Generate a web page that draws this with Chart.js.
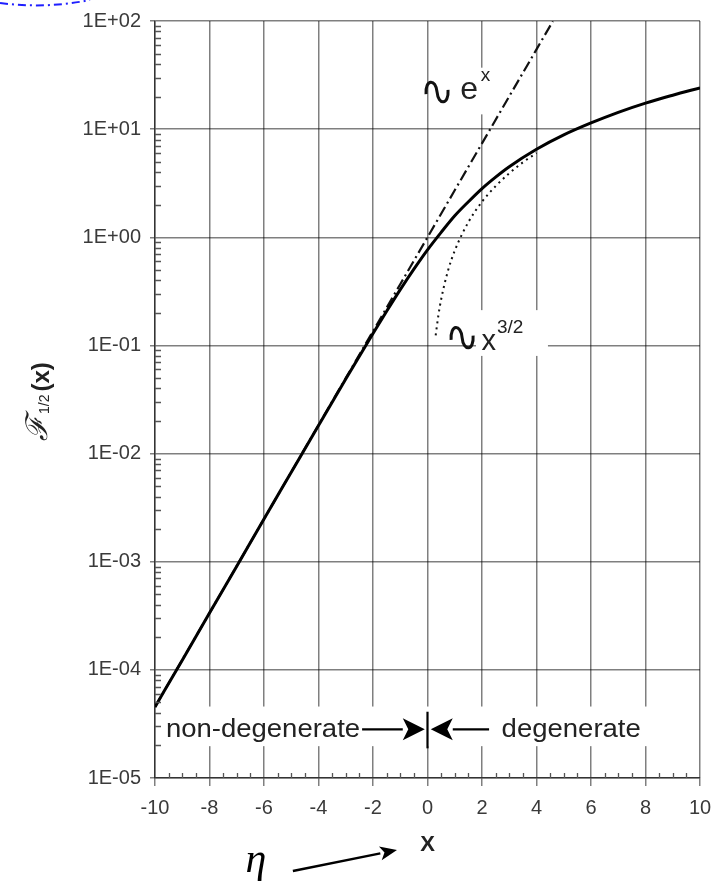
<!DOCTYPE html>
<html>
<head>
<meta charset="utf-8">
<script src="https://cdn.jsdelivr.net/npm/chart.js@4.4.1/dist/chart.umd.min.js"></script>
<style>
  html, body { margin: 0; padding: 0; background: #fff; }
  canvas { display: block; }
</style>
</head>
<body>
<canvas id="graficoFermi" width="723" height="887"></canvas>
<script>
// valores
const etaPuntos = [-10, -9, -8, -7, -6, -5, -4, -3, -2, -1.5, -1, -0.5, 0, 0.5, 1, 1.5, 2, 2.5, 3, 4, 5, 6, 7, 8, 9, 10];
const fermiMedio = [4.54e-5, 1.23e-4, 3.35e-4, 9.1e-4, 2.48e-3, 6.72e-3, 1.82e-2, 4.89e-2, 0.129, 0.207, 0.328, 0.507, 0.765, 1.11, 1.58, 2.13, 2.82, 3.60, 4.49, 6.51, 8.84, 11.4, 14.3, 17.4, 20.6, 24.1];

// asintota no degenerada ~ e^x
const expX = [-10, -6, -3, -1, 0, 1, 2, 3, 4, 4.6];
const expY = [4.54e-5, 2.48e-3, 4.98e-2, 0.368, 1, 2.72, 7.39, 20.1, 54.6, 99.5];

// asintota degenerada ~ x^(3/2)
const potX = [0.3, 0.4, 0.5, 0.75, 1, 1.5, 2, 2.5, 3, 3.5, 4];
const potY = [0.124, 0.19, 0.266, 0.489, 0.752, 1.38, 2.13, 2.97, 3.91, 4.93, 6.02];

const xTickValores = [-10, -8, -6, -4, -2, 0, 2, 4, 6, 8, 10];
const yTickValores = [1e-5, 1e-4, 1e-3, 1e-2, 1e-1, 1, 10, 100];
const yTickTextos = ['1E-05', '1E-04', '1E-03', '1E-02', '1E-01', '1E+00', '1E+01', '1E+02'];

function pares(xs, ys) {
  return xs.map((x, i) => ({ x: x, y: ys[i] }));
}

const fuente = "'Liberation Sans', Arial, sans-serif";

// tilde grande dibujada a mano
function tilde(ctx, x0, y0, w, h) {
  ctx.save();
  ctx.lineWidth = 3;
  ctx.strokeStyle = '#111';
  ctx.beginPath();
  ctx.moveTo(x0 + 1, y0 + 0.6 * h);
  ctx.bezierCurveTo(x0, y0 - 0.15 * h, x0 + 0.45 * w, y0 - 0.15 * h, x0 + 0.5 * w, y0 + 0.5 * h);
  ctx.bezierCurveTo(x0 + 0.55 * w, y0 + 1.15 * h, x0 + w, y0 + 1.15 * h, x0 + w - 1, y0 + 0.4 * h);
  ctx.stroke();
  ctx.restore();
}

function flecha(ctx, x1, y1, x2, y2, largo, ancho) {
  const ang = Math.atan2(y2 - y1, x2 - x1);
  const bx = x2 - largo * Math.cos(ang), by = y2 - largo * Math.sin(ang);
  ctx.beginPath();
  ctx.moveTo(x1, y1);
  ctx.lineTo(bx, by);
  ctx.stroke();
  ctx.beginPath();
  ctx.moveTo(x2, y2);
  ctx.lineTo(bx - ancho / 2 * Math.sin(ang), by + ancho / 2 * Math.cos(ang));
  ctx.lineTo(bx + 0.25 * largo * Math.cos(ang), by + 0.25 * largo * Math.sin(ang));
  ctx.lineTo(bx + ancho / 2 * Math.sin(ang), by - ancho / 2 * Math.cos(ang));
  ctx.closePath();
  ctx.fill();
}

const anotaciones = {
  id: 'anotaciones',
  beforeDatasetsDraw(chart) {
    // fondos blancos detras de los textos (tapan la grilla)
    const ctx = chart.ctx, X = v => chart.scales.x.getPixelForValue(v), Y = v => chart.scales.y.getPixelForValue(v);
    ctx.save();
    ctx.fillStyle = '#fff';
    ctx.fillRect(X(1.6), Y(37), X(2.7) - X(1.6), Y(13.7) - Y(37));
    ctx.fillRect(X(1.78), Y(0.212), X(4.42) - X(1.78), Y(0.08) - Y(0.212));
    ctx.fillRect(X(-9.93), Y(4.58e-5), X(8.1) - X(-9.93), Y(1.97e-5) - Y(4.58e-5));
    ctx.restore();
  },
  afterDraw(chart) {
    const ctx = chart.ctx, xs = chart.scales.x, ys = chart.scales.y, area = chart.chartArea;
    const X = v => xs.getPixelForValue(v), Y = v => ys.getPixelForValue(v);
    ctx.save();

    // ticks menores eje y (adentro)
    ctx.strokeStyle = '#555';
    ctx.lineWidth = 1.3;
    ctx.beginPath();
    for (let d = -5; d < 2; d++) {
      for (let m = 2; m <= 9; m++) {
        const py = Math.round(Y(m * Math.pow(10, d))) + 0.5;
        ctx.moveTo(area.left, py);
        ctx.lineTo(area.left + 6, py);
      }
    }
    // ticks menores eje x (hacia arriba)
    for (let v = -9.5; v < 10; v += 0.5) {
      if (v % 2 === 0) continue;
      const px = Math.round(X(v)) + 0.5;
      ctx.moveTo(px, area.bottom);
      ctx.lineTo(px, area.bottom - 5);
    }
    ctx.stroke();

    ctx.fillStyle = '#111';
    ctx.strokeStyle = '#111';
    ctx.textBaseline = 'alphabetic';

    // ~ e^x
    tilde(ctx, X(0.35) - 12, Y(27.5), 24, Y(17.7) - Y(27.5));
    ctx.font = '32px ' + fuente;
    ctx.fillStyle = '#222';
    ctx.fillText('e', X(1.2), Y(18.8));
    ctx.font = '19px ' + fuente;
    ctx.fillText('x', X(1.95), Y(28));

    // ~ x^(3/2)
    tilde(ctx, X(1.27) - 12, Y(0.148), 24, Y(0.094) - Y(0.148));
    ctx.font = '29px ' + fuente;
    ctx.fillText('x', X(1.98), Y(0.091));
    ctx.font = '19px ' + fuente;
    ctx.fillText('3/2', X(2.55), Y(0.13));

    // no degenerado / degenerado
    const yMed = Y(2.82e-5);
    ctx.textBaseline = 'middle';
    ctx.font = '25px ' + fuente;
    ctx.save();
    ctx.translate(X(-9.6), yMed + 1);
    ctx.scale(1.1, 1);
    ctx.fillText('non-degenerate', 0, 0);
    ctx.restore();
    ctx.save();
    ctx.translate(X(2.72), yMed + 1);
    ctx.scale(1.1, 1);
    ctx.fillText('degenerate', 0, 0);
    ctx.restore();
    ctx.fillStyle = '#000';
    ctx.strokeStyle = '#000';
    ctx.lineWidth = 2.2;
    flecha(ctx, X(-2.4), yMed, X(-0.1), yMed, 22, 22);
    flecha(ctx, X(2.26), yMed, X(0.12), yMed, 22, 22);
    ctx.beginPath();
    ctx.moveTo(X(0), Y(4.1e-5));
    ctx.lineTo(X(0), Y(1.88e-5));
    ctx.stroke();

    // eta con flecha hacia el eje x
    ctx.textBaseline = 'alphabetic';
    ctx.textAlign = 'center';
    ctx.font = 'italic 42px "Liberation Serif", "DejaVu Serif", serif';
    ctx.fillText('\u03B7', X(-6.3), area.bottom + 94);
    ctx.lineWidth = 2.4;
    flecha(ctx, X(-4.94), area.bottom + 93, X(-1.12), area.bottom + 72, 17, 14);

    // etiqueta eje y rotada
    ctx.save();
    ctx.translate(49, 441);
    ctx.rotate(-Math.PI / 2);
    ctx.textAlign = 'left';
    ctx.fillStyle = '#222';
    ctx.font = 'italic 30px "DejaVu Serif", serif';
    ctx.fillText('\u2131', 0, -2);
    let w = ctx.measureText('\u2131').width + 2;
    ctx.font = '14px ' + fuente;
    ctx.fillText('1/2', w, 0);
    w += ctx.measureText('1/2').width + 3;
    ctx.font = 'bold 24px ' + fuente;
    ctx.fillText('(x)', w, 0);
    ctx.restore();

    // arco azul recortado arriba a la izquierda
    ctx.strokeStyle = '#1f1fff';
    ctx.lineWidth = 2;
    ctx.setLineDash([8, 4, 2, 4]);
    ctx.beginPath();
    ctx.moveTo(0, 3);
    ctx.quadraticCurveTo(45, 9, 90, 0);
    ctx.stroke();
    ctx.restore();
  }
};

const ctx = document.getElementById('graficoFermi').getContext('2d');
new Chart(ctx, {
  type: 'line',
  data: {
    datasets: [
      {
        label: 'F1/2(x)',
        data: pares(etaPuntos, fermiMedio),
        borderColor: '#000',
        borderWidth: 3,
        pointRadius: 0,
        cubicInterpolationMode: 'monotone',
        order: 0
      },
      {
        label: '~ e^x',
        data: pares(expX, expY),
        borderColor: '#111',
        borderWidth: 2.2,
        borderDash: [11, 4, 2, 4],
        pointRadius: 0,
        order: 1
      },
      {
        label: '~ x^3/2',
        data: pares(potX, potY),
        borderColor: '#111',
        borderWidth: 2,
        borderDash: [2, 4],
        pointRadius: 0,
        cubicInterpolationMode: 'monotone',
        order: 2
      }
    ]
  },
  options: {
    responsive: false,
    animation: false,
    devicePixelRatio: 1,
    layout: { padding: { top: 16, right: 23, left: 0, bottom: 0 } },
    plugins: {
      legend: { display: false },
      tooltip: { enabled: false }
    },
    scales: {
      x: {
        type: 'linear',
        min: -10,
        max: 10,
        afterBuildTicks: s => { s.ticks = xTickValores.map(v => ({ value: v })); },
        afterFit: s => { s.height = 109; },
        ticks: { color: '#3a3a3a', font: { family: fuente, size: 20 }, padding: 10, maxRotation: 0 },
        grid: { color: 'rgba(0,0,0,0.5)', lineWidth: 1.5, tickLength: 8 },
        border: { color: 'rgba(0,0,0,0.6)', width: 1.5 },
        title: { display: true, text: 'X', color: '#222', font: { family: fuente, size: 22, weight: 'bold' }, padding: { top: 0, bottom: 29 } }
      },
      y: {
        type: 'logarithmic',
        min: 1e-5,
        max: 100,
        afterBuildTicks: s => { s.ticks = yTickValores.map(v => ({ value: v })); },
        afterFit: s => { s.width = 155; },
        ticks: {
          color: '#3a3a3a',
          font: { family: fuente, size: 20 },
          padding: 9,
          callback: (v, i) => yTickTextos[i]
        },
        grid: { color: 'rgba(0,0,0,0.5)', lineWidth: 1.5, tickLength: 5 },
        border: { color: 'rgba(0,0,0,0.6)', width: 1.5 }
      }
    }
  },
  plugins: [anotaciones]
});
</script>
</body>
</html>
